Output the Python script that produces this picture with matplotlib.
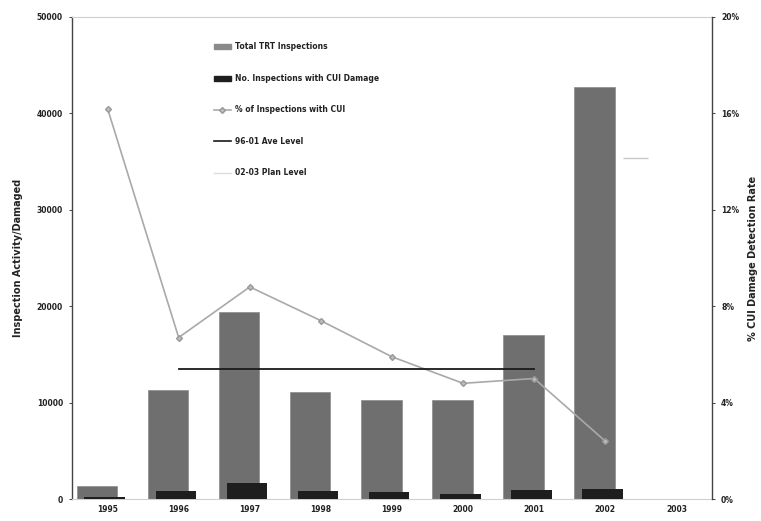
import matplotlib
matplotlib.use("Agg")
import matplotlib.pyplot as plt
import numpy as np
from matplotlib.lines import Line2D
from matplotlib.patches import Patch

years = ['1995', '1996', '1997', '1998', '1999', '2000', '2001', '2002', '2003']
total_trt = [1300, 11300, 19400, 11100, 10300, 10300, 17000, 42700, 0]
cui_damage = [200, 800, 1700, 800, 700, 500, 900, 1050, 0]
pct_cui = [16.2, 6.7, 8.8, 7.4, 5.9, 4.8, 5.0, 2.4, None]
ave_years = ['1996', '1997', '1998', '1999', '2000', '2001']
ave_level = 5.4
plan_year = '2002'
plan_level = 35400

left_ticks = [0, 10000, 20000, 30000, 40000, 50000]
right_ticks = [0, 4, 8, 12, 16, 20]

plt.rcParams['font.family'] = ['Verdana', 'DejaVu Sans']
fig = plt.figure(figsize=(7.61, 5.21), dpi=100)
ax = fig.add_axes([0.0946, 0.0422, 0.841, 0.9252])
x = np.arange(len(years))

bw = 0.57
ax.bar(x - 0.15, total_trt, width=bw, color='#6f6f6f', edgecolor='#8a8a8a', linewidth=0.5, zorder=2)
ax.bar(x - 0.04, cui_damage, width=bw, color='#1e1e1e', zorder=3)
pi = years.index(plan_year)
ax.hlines(plan_level, pi + 0.25, pi + 0.6, color='#c8c8c8', linewidth=1.0, zorder=1)

ax.set_xlim(-0.5, len(years) - 0.5)
ax.set_ylim(0, 50000)
ax.set_yticks(left_ticks)
ax.set_yticklabels([str(t) for t in left_ticks], fontsize=5.5, fontweight='bold')
ax.set_xticks(x)
ax.set_xticklabels(years, fontsize=5.5, fontweight='bold')
ax.tick_params(axis='both', length=2.5, width=0.6, pad=4, colors='#222222')
ax.tick_params(axis='x', length=0)
ax.set_ylabel('Inspection Activity/Damaged', fontsize=7, fontweight='bold', color='#222222')
ax.yaxis.set_label_coords(-0.077, 0.5)
ax.spines['left'].set_color('#444444')
ax.spines['left'].set_linewidth(1.0)
ax.spines['top'].set_color('#cfcfcf')
ax.spines['bottom'].set_color('#cfcfcf')
ax.spines['right'].set_visible(False)

ax2 = ax.twinx()
pct = np.array([np.nan if v is None else v for v in pct_cui], dtype=float)
ax2.plot(x, pct, color='#a9a9a9', linewidth=1.2, marker='D', markersize=3,
         markerfacecolor='#bdbdbd', markeredgecolor='#999999', zorder=5)
ax_idx = [years.index(y) for y in ave_years]
ax2.plot(ax_idx, [ave_level] * len(ax_idx), color='#1a1a1a', linewidth=1.3, zorder=6)
ax2.set_ylim(0, 20)
ax2.set_yticks(right_ticks)
ax2.set_yticklabels([f'{t}%' for t in right_ticks], fontsize=5.5, fontweight='bold')
ax2.tick_params(axis='y', length=2.5, width=0.6, pad=4, colors='#222222')
ax2.set_ylabel('% CUI Damage Detection Rate', fontsize=7, fontweight='bold', color='#222222')
ax2.yaxis.set_label_coords(1.056, 0.5)
ax2.spines['right'].set_color('#444444')
ax2.spines['right'].set_linewidth(1.0)
for s in ['left', 'top', 'bottom']:
    ax2.spines[s].set_visible(False)

handles = [
    Patch(facecolor='#8a8a8a', edgecolor='#8a8a8a'),
    Patch(facecolor='#1e1e1e', edgecolor='#1e1e1e'),
    Line2D([], [], color='#a9a9a9', marker='D', markersize=3, linewidth=1.2,
           markerfacecolor='#bdbdbd', markeredgecolor='#999999'),
    Line2D([], [], color='#1a1a1a', linewidth=1.2),
    Line2D([], [], color='#dddddd', linewidth=1.0),
]
labels = ['Total TRT Inspections', 'No. Inspections with CUI Damage',
          '% of Inspections with CUI', '96-01 Ave Level', '02-03 Plan Level']
leg = ax2.legend(handles, labels, loc='upper left', bbox_to_anchor=(0.272, 0.932),
                 bbox_transform=fig.transFigure, frameon=False, fontsize=5.5,
                 labelspacing=2.95, handlelength=2.2, handleheight=0.6, handletextpad=0.6)
for t in leg.get_texts():
    t.set_fontweight('bold')
    t.set_color('#222222')

fig.savefig('out.png', dpi=100)
